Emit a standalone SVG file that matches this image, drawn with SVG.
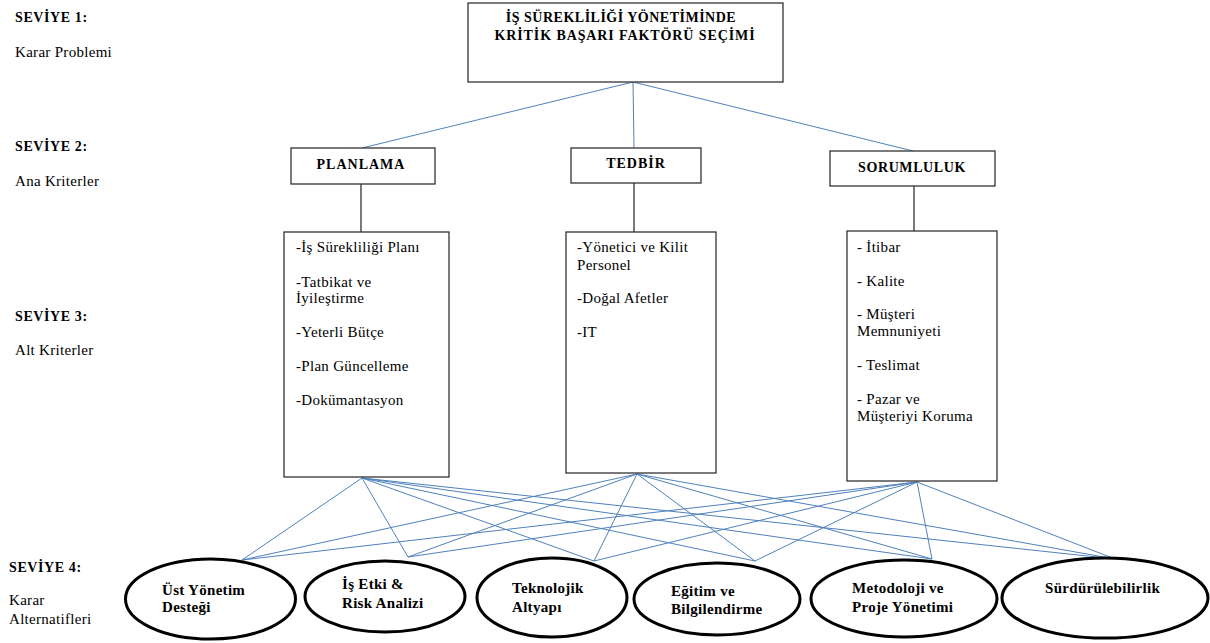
<svg xmlns="http://www.w3.org/2000/svg" width="1210" height="643" viewBox="0 0 1210 643" font-family="'Liberation Serif','Times New Roman',serif">
<style>
text{font-family:"Liberation Serif","Times New Roman",serif;fill:#000}
.b{font-weight:bold;font-size:14px}
.eb{font-weight:bold;font-size:15px;letter-spacing:0.3px}
.r{font-size:15px;letter-spacing:0.3px}
.box{fill:#fff;stroke:#333;stroke-width:1.3}
.ell{fill:#fff;stroke:#000;stroke-width:3}
.blue{stroke:#4F81BD;stroke-width:1;fill:none}
.blk{stroke:#333;stroke-width:1.3;fill:none}
.c{text-anchor:middle}
</style>
<rect width="1210" height="643" fill="#fff"/>
<g id="level-labels">
<text class="b" x="15" y="22" letter-spacing="0.6">SEVİYE  1:</text>
<text class="r" x="15" y="57">Karar Problemi</text>
<text class="b" x="15" y="151" letter-spacing="0.6">SEVİYE  2:</text>
<text class="r" x="15" y="186">Ana Kriterler</text>
<text class="b" x="15" y="321" letter-spacing="0.6">SEVİYE  3:</text>
<text class="r" x="15" y="355">Alt Kriterler</text>
<text class="b" x="9" y="572" letter-spacing="0.6">SEVİYE  4:</text>
<text class="r" x="9" y="605">Karar</text>
<text class="r" x="9" y="624">Alternatifleri</text>
</g>
<g id="connectors">
<path class="blue" d="M633 82 L362 148 M633 82 L634 148 M633 82 L913 151"/>
<path class="blk" d="M361 184 V232 M634 183 V232 M914 186 V231"/>
<path class="blue" d="M362 478 L242 560 M362 478 L408 557 M362 478 L594 561 M362 478 L755 561 M362 478 L932 559 M362 478 L1115 559"/>
<path class="blue" d="M637 474 L242 560 M637 474 L408 557 M637 474 L594 561 M637 474 L755 561 M637 474 L932 559 M637 474 L1115 559"/>
<path class="blue" d="M917 482 L242 560 M917 482 L408 557 M917 482 L594 561 M917 482 L755 561 M917 482 L932 559 M917 482 L1115 559"/>
</g>
<g id="goal">
<rect class="box" x="468" y="3" width="315" height="79" stroke-width="1.6"/>
<text class="b c" x="621" y="22" letter-spacing="0.5">İŞ SÜREKLİLİĞİ  YÖNETİMİNDE</text>
<text class="b c" x="625" y="40" letter-spacing="0.9">KRİTİK  BAŞARI  FAKTÖRÜ  SEÇİMİ</text>
</g>
<g id="planlama">
<rect class="box" x="291" y="148" width="144" height="36"/>
<text class="b c" x="361" y="169" letter-spacing="1">PLANLAMA</text>
</g>
<g id="tedbir">
<rect class="box" x="571" y="148" width="130" height="35"/>
<text class="b c" x="636" y="168" letter-spacing="1">TEDBİR</text>
</g>
<g id="sorumluluk">
<rect class="box" x="830" y="151" width="165" height="35"/>
<text class="b c" x="912" y="172" letter-spacing="0.6">SORUMLULUK</text>
</g>
<g id="planlama-alt">
<rect class="box" x="284" y="232" width="165" height="245"/>
<text class="r" x="296" y="252">-İş Sürekliliği  Planı</text>
<text class="r" x="296" y="287">-Tatbikat  ve</text>
<text class="r" x="296" y="303">İyileştirme</text>
<text class="r" x="296" y="337">-Yeterli Bütçe</text>
<text class="r" x="296" y="371">-Plan Güncelleme</text>
<text class="r" x="296" y="405">-Dokümantasyon</text>
</g>
<g id="tedbir-alt">
<rect class="box" x="566" y="232" width="150" height="241"/>
<text class="r" x="577" y="252">-Yönetici  ve Kilit</text>
<text class="r" x="577" y="270">Personel</text>
<text class="r" x="577" y="303">-Doğal  Afetler</text>
<text class="r" x="577" y="337">-IT</text>
</g>
<g id="sorumluluk-alt">
<rect class="box" x="847" y="231" width="150" height="250"/>
<text class="r" x="857" y="252">- İtibar</text>
<text class="r" x="857" y="286">- Kalite</text>
<text class="r" x="857" y="319">- Müşteri</text>
<text class="r" x="857" y="336">Memnuniyeti</text>
<text class="r" x="857" y="370">- Teslimat</text>
<text class="r" x="857" y="404">- Pazar  ve</text>
<text class="r" x="857" y="421">Müşteriyi  Koruma</text>
</g>
<g id="alt1">
<ellipse class="ell" cx="210.5" cy="599" rx="85" ry="40"/>
<text class="eb" x="162" y="595">Üst Yönetim</text>
<text class="eb" x="162" y="612">Desteği</text>
</g>
<g id="alt2">
<ellipse class="ell" cx="385" cy="596.5" rx="80" ry="35.5"/>
<text class="eb" x="342" y="589">İş Etki &amp;</text>
<text class="eb" x="342" y="608">Risk Analizi</text>
</g>
<g id="alt3">
<ellipse class="ell" cx="552" cy="597.5" rx="75" ry="39.5"/>
<text class="eb" x="512" y="593">Teknolojik</text>
<text class="eb" x="512" y="612">Altyapı</text>
</g>
<g id="alt4">
<ellipse class="ell" cx="717" cy="599" rx="83" ry="36"/>
<text class="eb" x="671" y="596">Eğitim ve</text>
<text class="eb" x="671" y="614">Bilgilendirme</text>
</g>
<g id="alt5">
<ellipse class="ell" cx="904" cy="598.5" rx="93" ry="38.5"/>
<text class="eb" x="852" y="593">Metodoloji ve</text>
<text class="eb" x="852" y="612">Proje Yönetimi</text>
</g>
<g id="alt6">
<ellipse class="ell" cx="1105" cy="598" rx="103" ry="40"/>
<text class="eb" x="1045" y="593">Sürdürülebilirlik</text>
</g>
</svg>
